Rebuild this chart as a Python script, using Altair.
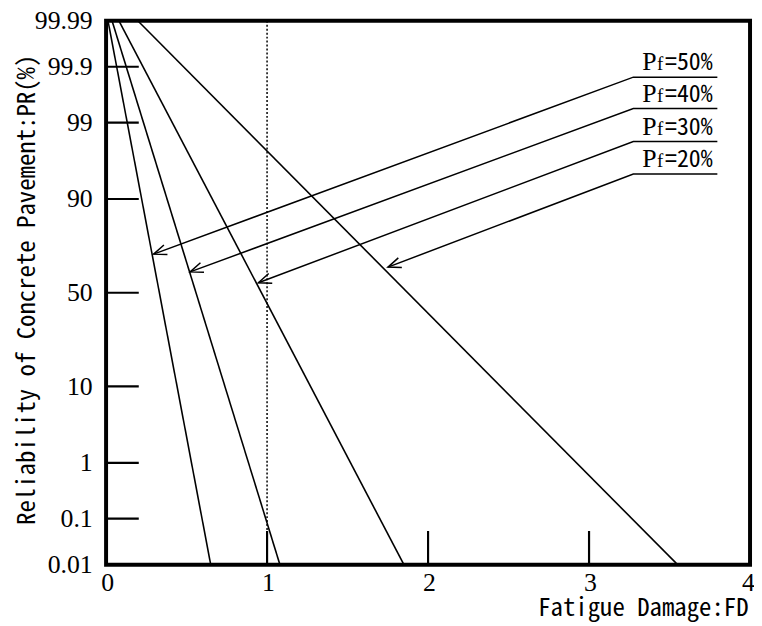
import altair as alt
import pandas as pd
from statistics import NormalDist

_nd = NormalDist()


def to_z(p):
    return _nd.inv_cdf(p / 100.0)


# ---- data ----
line_ids = ["Pf=50%", "Pf=40%", "Pf=30%", "Pf=20%"]
fd_top = [0.012, 0.037, 0.08, 0.197]      # FD where each line leaves 99.99 %
fd_bottom = [0.65, 1.08, 1.85, 3.55]     # FD where each line reaches 0.01 %
pr_top = 99.99
pr_bottom = 0.01

y_tick_pr = [0.01, 0.1, 1, 10, 50, 90, 99, 99.9, 99.99]
y_tick_labels = ["0.01", "0.1", "1", "10", "50", "90", "99", "99.9", "99.99"]
x_ticks = [0, 1, 2, 3, 4]
inner_x_ticks = [1, 2, 3]
inner_y_ticks = [0.1, 1, 10, 50, 90, 99, 99.9]
ref_fd = [1]

pf_values = ["=50%", "=40%", "=30%", "=20%"]
label_fd_start = [3.275, 3.275, 3.275, 3.275]
label_fd_end = [3.797, 3.797, 3.797, 3.797]
label_pr = [99.84, 99.41, 98.07, 94.77]
arrow_fd = [0.295, 0.522, 0.946, 1.751]
arrow_pr = [70.1, 61.2, 55.4, 63.7]

# ---- tables ----
rows = []
for i, lid in enumerate(line_ids):
    rows.append({"id": lid, "o": 0, "fd": fd_top[i], "z": to_z(pr_top)})
    rows.append({"id": lid, "o": 1, "fd": fd_bottom[i], "z": to_z(pr_bottom)})
lines_df = pd.DataFrame(rows)

ann_rows = []
for i, lid in enumerate(line_ids):
    ann_rows.append({"id": lid, "o": 0, "fd": label_fd_end[i], "z": to_z(label_pr[i])})
    ann_rows.append({"id": lid, "o": 1, "fd": label_fd_start[i], "z": to_z(label_pr[i])})
    ann_rows.append({"id": lid, "o": 2, "fd": arrow_fd[i], "z": to_z(arrow_pr[i])})
ann_df = pd.DataFrame(ann_rows)

tips_df = pd.DataFrame({"fd": arrow_fd, "z": [to_z(p) for p in arrow_pr]})
text_df = pd.DataFrame({"fd": label_fd_start, "z": [to_z(p) for p in label_pr],
                        "rest": pf_values, "P": ["P"] * 4, "f": ["f"] * 4})
ytick_df = pd.DataFrame({"z": [to_z(p) for p in inner_y_ticks]})
xtick_df = pd.DataFrame({"fd": inner_x_ticks})
ref_df = pd.DataFrame({"fd": ref_fd})

y_zs = [to_z(p) for p in y_tick_pr]
label_expr = " : ".join(
    f"abs(datum.value - ({zv:.6f})) < 0.001 ? '{lab}'" for zv, lab in zip(y_zs, y_tick_labels)
) + " : ''"

x_scale = alt.Scale(domain=[0, 4], nice=False, zero=False)
y_scale = alt.Scale(domain=[to_z(pr_bottom), to_z(pr_top)], nice=False, zero=False)

TITLE_FONT = "Noto Sans Mono CJK JP"
LABEL_FONT = "Liberation Serif"

x_axis = alt.Axis(
    values=x_ticks, format="d", title="Fatigue Damage:FD", grid=False, domain=False,
    ticks=False, tickSize=0, labelFont=LABEL_FONT, labelFontSize=26, labelColor="black",
    labelPadding=5, labelFlush=False,
    labelOffset={"condition": {"test": "datum.value === 4", "value": -2}, "value": 1},
    titleFont=TITLE_FONT, titleFontSize=25, titleFontWeight="normal", titleColor="black",
    titleAnchor="end", titleAlign="right", titleX=648, titleY=51, titleBaseline="alphabetic",
)
y_axis = alt.Axis(
    values=y_zs, labelExpr=label_expr, title="Reliability of Concrete Pavement:PR(%)",
    grid=False, domain=False, ticks=False, tickSize=0, labelFont=LABEL_FONT,
    labelFontSize=26, labelColor="black", labelPadding=14,
    titleFont=TITLE_FONT, titleFontSize=25, titleFontWeight="normal", titleColor="black",
    titleX=-80, titleY=271, titleBaseline="middle", titleAngle=270,
)

X = alt.X("fd:Q", scale=x_scale, axis=x_axis)
Y = alt.Y("z:Q", scale=y_scale, axis=y_axis)

lines = alt.Chart(lines_df).mark_line(color="black", strokeWidth=1.6, clip=True).encode(
    x=X, y=Y, detail="id:N", order="o:Q",
)

ref_line = alt.Chart(ref_df).mark_rule(color="black", strokeWidth=1.5, strokeDash=[2, 2]).encode(
    x=X
)

yticks = alt.Chart(ytick_df).mark_rule(color="black", strokeWidth=2.2).encode(
    y=Y, x=alt.value(0), x2=alt.value(33)
)
xticks = alt.Chart(xtick_df).mark_rule(color="black", strokeWidth=2.2).encode(
    x=X, y=alt.value(549), y2=alt.value(515)
)

ann = alt.Chart(ann_df).mark_line(color="black", strokeWidth=1.5).encode(
    x=X, y=Y, detail="id:N", order="o:Q",
)

heads = alt.Chart(tips_df).mark_point(
    shape="M-1,-0.4L0,0L-1,0.4", size=676, angle=160, filled=False,
    color="black", strokeWidth=1.5, opacity=1,
).encode(x=X, y=Y)

ANN_FONT = "Noto Sans Mono CJK JP"
txt_base = alt.Chart(text_df).encode(x=X, y=Y)
t_p = txt_base.mark_text(font=LABEL_FONT, fontSize=26, align="left", baseline="alphabetic",
                         dx=9, dy=-7, color="black").encode(text="P:N")
t_f = txt_base.mark_text(font=LABEL_FONT, fontSize=19, align="left", baseline="alphabetic",
                         dx=24, dy=-7, color="black").encode(text="f:N")
t_r = txt_base.mark_text(font=ANN_FONT, fontSize=24, align="left", baseline="alphabetic",
                         dx=32, dy=-7, color="black").encode(text="rest:N")

chart = alt.layer(lines, ref_line, yticks, xticks, ann, heads, t_p, t_f, t_r).properties(
    width=650, height=549,
    autosize=alt.AutoSizeParams(type="none"),
    padding={"left": 99, "top": 10, "right": 4, "bottom": 60},
    background="white",
).configure_view(stroke="black", strokeWidth=4)

chart.save("out.html", embed_options={"renderer": "svg", "actions": False})
